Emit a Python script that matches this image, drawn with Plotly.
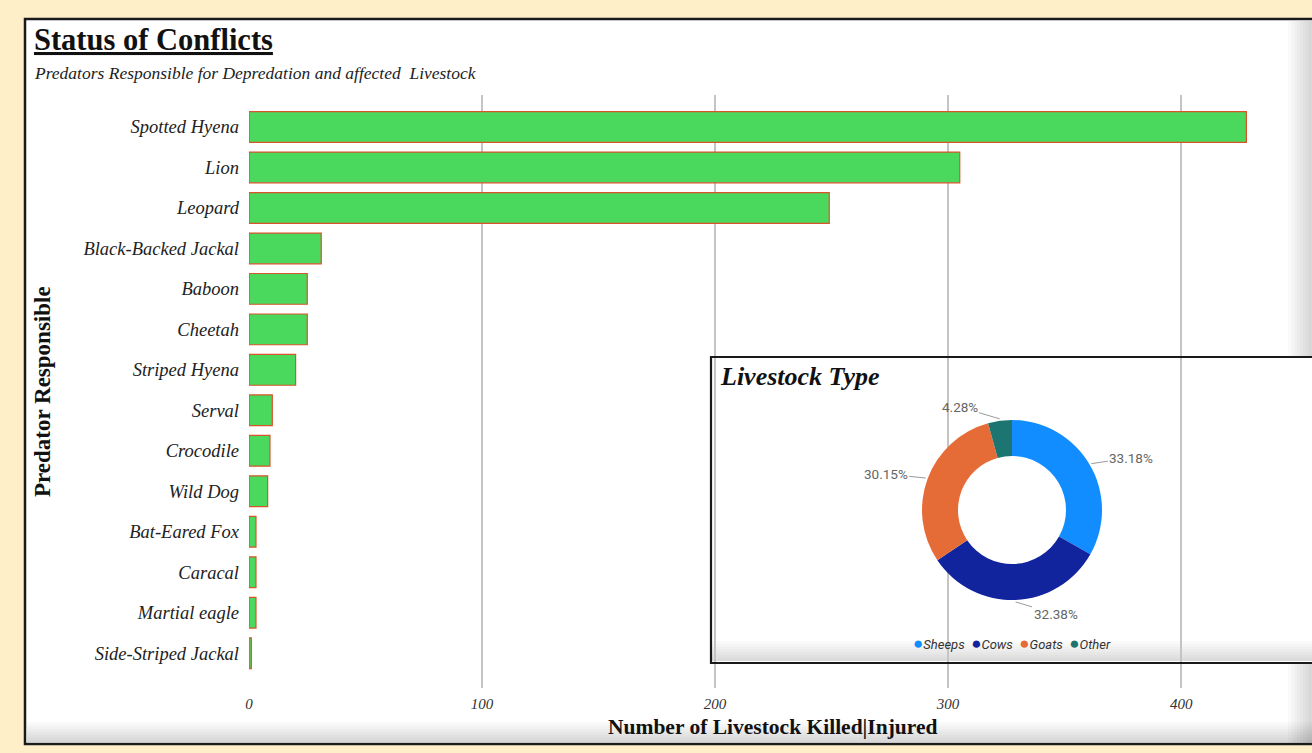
import math
import plotly.graph_objects as go

# ---------------- data ----------------
predators = ["Spotted Hyena", "Lion", "Leopard", "Black-Backed Jackal", "Baboon",
             "Cheetah", "Striped Hyena", "Serval", "Crocodile", "Wild Dog",
             "Bat-Eared Fox", "Caracal", "Martial eagle", "Side-Striped Jackal"]
livestock_counts = [428, 305, 249, 31, 25, 25, 20, 10, 9, 8, 3, 3, 3, 1]

livestock_types = ["Sheeps", "Cows", "Goats", "Other"]
livestock_share = [33.18, 32.38, 30.15, 4.28]
livestock_colors = ["#118DFF", "#12239E", "#E66C37", "#1C7570"]

x_ticks = [0, 100, 200, 300, 400]

# ---------------- layout geometry ----------------
W, H = 1312, 753
ML, MR, MT, MB = 249, 26, 95, 65
PW, PH = W - ML - MR, H - MT - MB


def px(x):
    return (x - ML) / PW


def py(y):
    return (H - MB - y) / PH


serif = "Liberation Serif, Times New Roman, serif"
sans = "Roboto, Liberation Sans, Arial, sans-serif"

# donut geometry (pixels)
PIE_CX, PIE_CY, PIE_R = 1012, 510, 90

fig = go.Figure()

fig.add_trace(go.Bar(
    y=predators, x=livestock_counts, orientation="h",
    marker=dict(color="#4AD95C", line=dict(color="#D9532B", width=1.2)),
    showlegend=False, hoverinfo="x+y",
))

fig.add_trace(go.Pie(
    labels=livestock_types, values=livestock_share,
    marker=dict(colors=livestock_colors, line=dict(width=0)),
    hole=0.6, sort=False, direction="clockwise", rotation=0,
    textinfo="none",
    domain=dict(x=[px(PIE_CX - PIE_R), px(PIE_CX + PIE_R)],
                y=[py(PIE_CY + PIE_R), py(PIE_CY - PIE_R)]),
    showlegend=False,
))

shapes = []
# main card
shapes.append(dict(type="rect", xref="paper", yref="paper",
                   x0=px(25), x1=px(1330), y0=py(744), y1=py(19),
                   fillcolor="white", line=dict(color="#1a1a1a", width=2.5), layer="below"))
# card shading (right edge and bottom)
for k in range(8):
    shapes.append(dict(type="rect", xref="paper", yref="paper",
                       x0=px(1288 + k * 3), x1=px(1330), y0=py(743), y1=py(21),
                       fillcolor="rgba(0,0,0,0.018)", line=dict(width=0), layer="below"))
for k in range(8):
    shapes.append(dict(type="rect", xref="paper", yref="paper",
                       x0=px(27), x1=px(1330), y0=py(742), y1=py(722 + k * 2.5),
                       fillcolor="rgba(0,0,0,0.018)", line=dict(width=0), layer="below"))
# inset box (covers gridlines)
shapes.append(dict(type="rect", xref="paper", yref="paper",
                   x0=px(711), x1=px(1330), y0=py(663), y1=py(357),
                   fillcolor="white", line=dict(width=0), layer="between"))
for k in range(7):
    shapes.append(dict(type="rect", xref="paper", yref="paper",
                       x0=px(712), x1=px(1330), y0=py(661), y1=py(641 + k * 2.8),
                       fillcolor="rgba(0,0,0,0.02)", line=dict(width=0), layer="between"))
shapes.append(dict(type="rect", xref="paper", yref="paper",
                   x0=px(711), x1=px(1330), y0=py(663), y1=py(357),
                   fillcolor="rgba(0,0,0,0)", line=dict(color="#1a1a1a", width=2.2), layer="above"))

annotations = [
    dict(text="<b><u>Status of Conflicts</u></b>", x=px(32), y=py(40), xref="paper", yref="paper",
         xanchor="left", yanchor="middle", showarrow=False,
         font=dict(family=serif, size=30.5, color="#111111")),
    dict(text="<i>Predators Responsible for Depredation and affected  Livestock</i>",
         x=px(32), y=py(73), xref="paper", yref="paper", xanchor="left", yanchor="middle",
         showarrow=False, font=dict(family=serif, size=17.5, color="#222222")),
    dict(text="<b>Predator Responsible</b>", x=px(42), y=py(392), xref="paper", yref="paper",
         xanchor="center", yanchor="middle", textangle=-90, showarrow=False,
         font=dict(family=serif, size=23, color="#111111")),
    dict(text="<b>Number of Livestock Killed|Injured</b>", x=px(772), y=py(727),
         xref="paper", yref="paper", xanchor="center", yanchor="middle", showarrow=False,
         font=dict(family=serif, size=21.5, color="#111111")),
    dict(text="<b><i>Livestock Type</i></b>", x=px(718), y=py(376), xref="paper", yref="paper",
         xanchor="left", yanchor="middle", showarrow=False,
         font=dict(family=serif, size=26, color="#111111")),
]

# donut percentage labels with leader lines, placed from the data's cumulative angles
total = sum(livestock_share)
cum = 0.0
for share in livestock_share:
    mid = (cum + share / 2) / total * 2 * math.pi
    cum += share
    ex = PIE_CX + (PIE_R + 2) * math.sin(mid)
    ey = PIE_CY - (PIE_R + 2) * math.cos(mid)
    side = 1 if math.sin(mid) >= 0 else -1
    label = f"{share / total * 100:.2f}%"
    annotations.append(dict(
        text=label, x=px(ex), y=py(ey), xref="paper", yref="paper",
        showarrow=True, arrowhead=0, arrowwidth=1, arrowcolor="#9a9a9a",
        ax=side * 40, ay=-math.cos(mid) * 12, standoff=0,
        font=dict(family=sans, size=13.5, color="#666666"),
    ))

legend_text = "  ".join(
    f"<span style='color:{c};font-size:17px'>●</span><i>{t}</i>"
    for t, c in zip(livestock_types, livestock_colors)
)
annotations.append(dict(text=legend_text, x=px(1012), y=py(643), xref="paper", yref="paper",
                        xanchor="center", yanchor="middle", showarrow=False,
                        font=dict(family=sans, size=13, color="#333333")))

fig.update_layout(
    width=W, height=H,
    margin=dict(l=ML, r=MR, t=MT, b=MB),
    paper_bgcolor="#FEEFC8",
    plot_bgcolor="rgba(0,0,0,0)",
    bargap=0.24,
    shapes=shapes,
    annotations=annotations,
    xaxis=dict(range=[0, 445], tickmode="array", tickvals=x_ticks,
               ticktext=[f"<i>{v}</i>" for v in x_ticks],
               showgrid=True, gridcolor="#C4C4C4", gridwidth=2, zeroline=False,
               showline=False, ticks="", ticklabelstandoff=5,
               tickfont=dict(family=serif, size=15, color="#333333"), fixedrange=True),
    yaxis=dict(categoryorder="array", categoryarray=predators,
               range=[len(predators) - 1 + 0.86, -0.79],
               tickmode="array", tickvals=predators,
               ticktext=[f"<i>{p}</i>" for p in predators],
               showgrid=False, zeroline=False, showline=False, ticks="",
               ticklabelstandoff=9,
               tickfont=dict(family=serif, size=18.5, color="#222222"), fixedrange=True),
    font=dict(family=serif),
)

fig.write_html(
    "out.html",
    config={"displayModeBar": False},
    post_script="document.body.style.margin='0';document.body.style.background='#FEEFC8';",
)
